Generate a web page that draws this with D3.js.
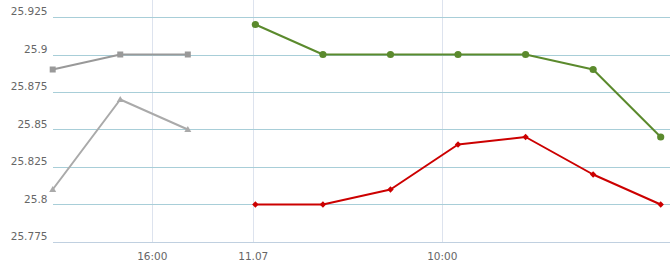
<!DOCTYPE html>
<html><head><meta charset="utf-8">
<script src="https://cdn.jsdelivr.net/npm/d3@7"></script>
<style>body{margin:0;background:#fff}svg{display:block}text{font-family:"DejaVu Sans",Verdana,sans-serif;font-size:10.5px;fill:#666}</style>
</head><body><div id="chart"></div>
<script>
// x positions are slot indices on an ordinal time axis
const greySquareX = [0, 1, 2];
const greySquareY = [25.89, 25.9, 25.9];
const greyTriangleX = [0, 1, 2];
const greyTriangleY = [25.81, 25.87, 25.85];
const greenX = [3, 4, 5, 6, 7, 8, 9];
const greenY = [25.92, 25.9, 25.9, 25.9, 25.9, 25.89, 25.845];
const redX = [3, 4, 5, 6, 7, 8, 9];
const redY = [25.8, 25.8, 25.81, 25.84, 25.845, 25.82, 25.8];
const xTickPos = [1.474, 2.969, 5.767];
const xTickLabels = ["16:00", "11.07", "10:00"];
const yTicks = [25.775, 25.8, 25.825, 25.85, 25.875, 25.9, 25.925];

const W = 670, H = 265;
const svg = d3.select("#chart").append("svg").attr("width", W).attr("height", H);
const x = d3.scaleLinear().domain([0, 9]).range([52.7, 660.7]);
const y = d3.scaleLinear().domain([25.775, 25.925]).range([242, 17]);

// vertical grid
svg.append("g").selectAll("line").data(xTickPos).join("line")
  .attr("x1", d => Math.round(x(d)) + 0.5).attr("x2", d => Math.round(x(d)) + 0.5)
  .attr("y1", 0).attr("y2", 242).attr("stroke", "#dde3ee").attr("stroke-width", 1);

// horizontal grid
svg.append("g").selectAll("line").data(yTicks).join("line")
  .attr("x1", 53).attr("x2", W)
  .attr("y1", d => Math.round(y(d)) + 0.5).attr("y2", d => Math.round(y(d)) + 0.5)
  .attr("stroke", d => d === 25.775 ? "#c0d0e0" : "#a8ced8").attr("stroke-width", 1);

// y labels
const fmt = d => String(+d.toFixed(3));
svg.append("g").selectAll("text").data(yTicks).join("text")
  .attr("x", 47.5).attr("y", d => y(d) - 2).attr("text-anchor", "end").text(fmt);

// x labels
svg.append("g").selectAll("text").data(xTickPos).join("text")
  .attr("x", d => x(d)).attr("y", 260).attr("text-anchor", "middle")
  .text((d, i) => xTickLabels[i]);

const line = d3.line().x(d => x(d[0])).y(d => y(d[1]));
function series(xs, ys, color, width, marker) {
  const pts = xs.map((v, i) => [v, ys[i]]);
  svg.append("path").datum(pts).attr("d", line).attr("fill", "none")
    .attr("stroke", color).attr("stroke-width", width).attr("stroke-linejoin", "round");
  const g = svg.append("g");
  pts.forEach(p => {
    const cx = x(p[0]), cy = y(p[1]);
    if (marker === "circle") g.append("circle").attr("cx", cx).attr("cy", cy).attr("r", 3.6).attr("fill", color);
    else if (marker === "square") g.append("rect").attr("x", cx - 3).attr("y", cy - 3).attr("width", 6).attr("height", 6).attr("fill", color);
    else if (marker === "diamond") g.append("path").attr("d", `M${cx},${cy-3.2}L${cx+3.2},${cy}L${cx},${cy+3.2}L${cx-3.2},${cy}Z`).attr("fill", color);
    else if (marker === "triangle") g.append("path").attr("d", `M${cx},${cy-3.5}L${cx+3.5},${cy+2.5}L${cx-3.5},${cy+2.5}Z`).attr("fill", color);
  });
}
series(greySquareX, greySquareY, "#999999", 2, "square");
series(greyTriangleX, greyTriangleY, "#aaaaaa", 2, "triangle");
series(greenX, greenY, "#5b8a2d", 2, "circle");
series(redX, redY, "#cc0000", 2, "diamond");
</script></body></html>
